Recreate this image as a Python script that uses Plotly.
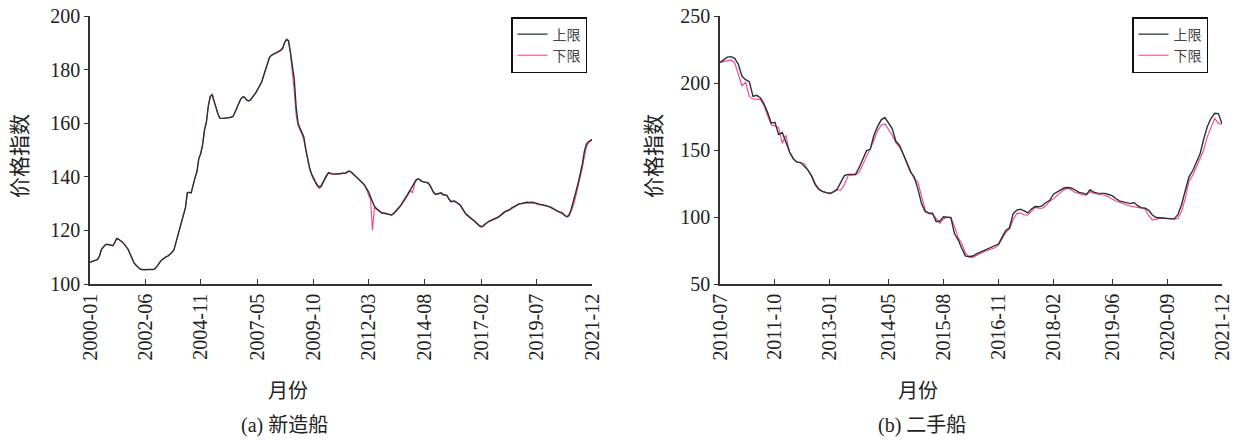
import pandas as pd
import plotly.graph_objects as go

# ---- 新造船 (2000-01 .. 2021-12), monthly price index ----
new_months = pd.date_range("2000-01", "2021-12", freq="MS").strftime("%Y-%m").tolist()
new_ticks = ["2000-01", "2002-06", "2004-11", "2007-05", "2009-10",
             "2012-03", "2014-08", "2017-02", "2019-07", "2021-12"]

new_upper = [
    108.1, 108.3, 108.6, 108.9, 109.2, 110.5, 112.9, 113.8, 114.6, 114.8,
    114.7, 114.5, 114.3, 115.5, 117.0, 116.7, 116.3, 115.6, 114.8, 113.8,
    112.9, 111.2, 109.5, 108.0, 107.1, 106.3, 105.7, 105.4, 105.3, 105.3,
    105.4, 105.3, 105.4, 105.4, 105.6, 106.5, 107.7, 108.5, 109.2, 109.8,
    110.2, 110.5, 111.0, 111.8, 112.8, 115.5, 118.5, 121.0, 123.5, 125.8,
    128.5, 134.1, 134.2, 134.0, 137.5, 139.6, 141.8, 146.8, 148.6, 152.0,
    157.5, 160.5, 166.5, 170.0, 170.6, 168.0, 165.5, 163.5, 161.9, 161.8,
    161.8, 161.9, 162.0, 162.0, 162.2, 162.6, 164.0, 165.8, 167.5, 169.0,
    169.8, 169.7, 168.7, 168.3, 168.6, 169.5, 170.2, 171.5, 172.8, 174.1,
    175.5, 177.8, 180.3, 182.6, 184.5, 185.3, 185.7, 186.0, 186.4, 186.8,
    187.3, 188.2, 190.2, 191.3, 190.8, 186.5, 181.5, 176.5, 166.0, 160.0,
    158.2, 156.5, 155.0, 150.5, 146.5, 143.5, 141.2, 139.5, 138.3, 137.0,
    136.2, 136.5, 138.0, 139.3, 140.6, 141.6, 141.3, 141.1, 141.0, 141.1,
    141.2, 141.1, 141.4, 141.5, 141.4, 142.0, 142.1, 141.7, 141.0, 140.6,
    139.8, 139.0, 138.3, 137.6, 136.7, 135.5, 134.3, 132.5, 130.5, 129.0,
    128.2, 127.7, 127.0, 126.5, 126.5, 126.3, 126.2, 125.8, 125.8, 126.3,
    127.0, 127.7, 128.6, 129.6, 130.6, 131.8, 133.0, 134.2, 135.2, 136.5,
    137.8, 139.0, 139.3, 138.7, 138.3, 138.1, 138.0, 137.8, 137.0, 135.6,
    134.2, 133.5, 133.6, 133.9, 134.0, 133.4, 133.2, 133.1, 131.8, 130.8,
    130.9, 131.0, 130.5, 130.0, 129.5, 128.3, 127.0, 126.1, 125.5, 124.8,
    124.3, 123.8, 123.0, 122.4, 121.8, 121.4, 121.7, 122.4, 123.0, 123.4,
    123.7, 124.0, 124.3, 124.5, 125.0, 125.6, 126.3, 126.8, 127.2, 127.5,
    127.8, 128.4, 128.8, 129.4, 129.9, 130.0, 130.1, 130.3, 130.4, 130.5,
    130.4, 130.5, 130.5, 130.3, 130.0, 129.8, 129.7, 129.6, 129.4, 129.3,
    129.1, 128.8, 128.4, 127.9, 127.6, 127.2, 126.9, 126.7, 126.2, 125.4,
    125.1, 125.8, 127.6, 130.0, 132.6, 135.6, 138.4, 141.5, 145.0, 149.5,
    152.0, 153.0, 153.6, 154.0,
]

new_lower = [
    108.1, 108.3, 108.6, 108.9, 109.2, 110.5, 112.9, 113.8, 114.6, 114.8,
    114.7, 114.5, 114.3, 115.5, 117.0, 116.7, 116.3, 115.6, 114.8, 113.8,
    112.9, 111.2, 109.5, 108.0, 107.1, 106.3, 105.7, 105.4, 105.3, 105.3,
    105.4, 105.3, 105.4, 105.4, 105.6, 106.5, 107.7, 108.5, 109.2, 109.8,
    110.2, 110.5, 111.0, 111.8, 112.8, 115.5, 118.5, 121.0, 123.5, 125.8,
    128.5, 134.1, 134.2, 134.0, 137.5, 139.6, 141.8, 146.8, 148.6, 152.0,
    157.5, 160.5, 166.5, 170.0, 170.6, 168.0, 165.5, 163.5, 161.9, 161.8,
    161.8, 161.9, 162.0, 162.0, 162.2, 162.6, 164.0, 165.8, 167.5, 169.0,
    169.8, 169.7, 168.7, 168.3, 168.6, 169.5, 170.2, 171.5, 172.8, 174.1,
    175.5, 177.8, 180.3, 182.6, 184.5, 185.3, 185.7, 186.0, 186.4, 186.8,
    187.0, 187.8, 190.0, 191.2, 190.5, 186.0, 180.0, 172.0, 163.0, 159.0,
    157.5, 156.0, 154.0, 150.0, 146.0, 143.0, 140.8, 139.0, 138.0, 136.5,
    135.7, 136.0, 137.6, 139.0, 140.4, 141.4, 141.1, 141.0, 140.9, 141.0,
    141.1, 141.0, 141.3, 141.4, 141.3, 141.9, 142.0, 141.6, 140.9, 140.5,
    139.7, 138.9, 138.2, 137.5, 136.5, 135.2, 133.0, 131.5, 120.0, 128.5,
    128.0, 127.5, 126.8, 126.3, 126.3, 126.1, 126.0, 125.6, 125.6, 126.1,
    126.8, 127.5, 128.4, 129.3, 130.2, 131.4, 132.6, 133.8, 134.8, 134.0,
    137.2, 138.7, 139.2, 138.6, 138.2, 138.0, 137.9, 137.6, 136.8, 135.3,
    134.0, 133.3, 133.4, 133.7, 133.8, 133.2, 133.0, 132.9, 131.6, 130.6,
    130.7, 130.8, 130.3, 129.8, 129.3, 128.0, 126.8, 125.9, 125.3, 124.6,
    124.1, 123.6, 122.8, 122.2, 121.6, 121.2, 121.5, 122.2, 122.8, 123.2,
    123.5, 123.8, 124.1, 124.3, 124.8, 125.4, 126.1, 126.6, 127.0, 127.3,
    127.6, 128.2, 128.6, 129.2, 129.7, 129.8, 129.9, 130.1, 130.2, 130.3,
    130.2, 130.3, 130.3, 130.1, 129.8, 129.6, 129.5, 129.4, 129.2, 129.1,
    128.9, 128.6, 128.2, 127.6, 127.2, 126.8, 126.3, 126.1, 125.8, 125.2,
    125.0, 125.3, 126.8, 128.8, 131.2, 134.0, 136.8, 140.0, 143.5, 147.5,
    150.8, 152.5, 153.3, 153.8,
]

# ---- 二手船 (2010-07 .. 2021-12), monthly price index ----
used_months = pd.date_range("2010-07", "2021-12", freq="MS").strftime("%Y-%m").tolist()
used_ticks = ["2010-07", "2011-10", "2013-01", "2014-05", "2015-08",
              "2016-11", "2018-02", "2019-06", "2020-09", "2021-12"]

used_upper = [
    215.4, 217.5, 219.3, 219.7, 218.4, 214.0, 205.0, 202.5, 201.0, 190.0,
    190.8, 189.0, 184.5, 178.0, 170.0, 170.6, 161.5, 163.0, 155.0, 148.5,
    143.5, 141.0, 140.6, 138.0, 135.0, 130.5, 124.0, 120.5, 119.0, 118.2,
    117.7, 119.0, 120.8, 126.0, 131.0, 131.8, 131.6, 131.8, 137.0, 143.0,
    149.5, 150.5, 161.0, 167.5, 172.5, 174.2, 170.5, 166.0, 156.5, 153.5,
    147.0, 140.5, 133.5, 130.0, 121.0, 110.0, 104.0, 103.0, 102.8, 96.5,
    97.0, 100.2, 100.0, 99.5, 87.5, 83.0, 76.5, 70.8, 70.5, 70.9,
    72.5, 73.8, 74.6, 76.0, 77.1, 78.5, 79.8, 85.0, 90.0, 92.0,
    102.5, 105.2, 105.8, 104.5, 103.0, 106.0, 107.8, 107.6, 108.5, 110.8,
    112.5, 117.0, 118.3, 120.2, 121.8, 122.0, 121.5, 120.0, 118.4, 117.8,
    116.9, 120.3, 118.5, 117.8, 117.7, 117.6, 116.8, 115.9, 113.8, 112.0,
    111.3, 110.6, 110.0, 110.8, 108.4, 107.0, 106.6, 105.0, 101.5, 99.6,
    99.2, 99.2, 99.0, 98.9, 98.6, 102.0, 109.5, 120.0, 130.0, 134.5,
    140.5, 147.0, 158.0, 167.5, 173.5, 177.4, 177.2, 169.5,
]

used_lower = [
    215.4, 216.0, 217.0, 217.2, 215.0, 207.0, 198.0, 200.5, 190.0, 188.0,
    187.8, 187.8, 183.0, 175.0, 168.5, 168.0, 166.5, 155.0, 161.0, 148.0,
    143.5, 141.0, 140.5, 139.8, 135.0, 131.0, 125.0, 121.2, 119.3, 118.3,
    117.2, 118.5, 120.1, 120.1, 124.5, 131.0, 131.3, 131.3, 133.5, 139.5,
    145.0, 150.5, 157.0, 164.5, 168.5, 169.4, 165.5, 161.0, 155.5, 152.0,
    147.0, 141.0, 135.0, 128.5, 126.0, 116.0, 105.0, 102.5, 102.0, 99.0,
    95.3, 98.5, 99.8, 99.8, 93.0, 84.5, 80.0, 73.0, 70.0, 69.9,
    71.5, 73.0, 74.1, 75.0, 76.0, 77.1, 79.0, 84.0, 88.5, 91.0,
    98.0, 102.7, 102.9, 101.5, 101.5, 104.0, 107.2, 106.5, 106.5, 108.5,
    112.0, 113.5, 116.4, 118.5, 120.5, 121.4, 120.0, 118.2, 117.5, 116.5,
    116.4, 118.9, 117.5, 117.0, 116.9, 116.2, 115.0, 113.2, 112.0, 111.0,
    110.2, 109.0, 108.0, 107.7, 107.2, 106.5, 106.0, 101.0, 97.8, 98.2,
    99.0, 99.0, 98.6, 98.5, 98.3, 99.0, 104.5, 114.0, 127.0, 131.0,
    137.6, 143.0, 150.0, 160.0, 166.5, 173.6, 170.0, 169.2,
]

UPPER_COLOR = "#263238"
LOWER_COLOR = "#ff3d84"
FONT = "Liberation Serif, Noto Sans CJK SC"

W, H = 1247, 442
fig = go.Figure()

# lower bound drawn first so the upper bound sits on top
fig.add_trace(go.Scatter(x=new_months, y=new_lower, name="下限", mode="lines",
                         line=dict(color=LOWER_COLOR, width=1.1),
                         xaxis="x", yaxis="y", legend="legend", legendrank=2))
fig.add_trace(go.Scatter(x=new_months, y=new_upper, name="上限", mode="lines",
                         line=dict(color=UPPER_COLOR, width=1.4),
                         xaxis="x", yaxis="y", legend="legend", legendrank=1))
fig.add_trace(go.Scatter(x=used_months, y=used_lower, name="下限", mode="lines",
                         line=dict(color=LOWER_COLOR, width=1.1),
                         xaxis="x2", yaxis="y2", legend="legend2", legendrank=2))
fig.add_trace(go.Scatter(x=used_months, y=used_upper, name="上限", mode="lines",
                         line=dict(color=UPPER_COLOR, width=1.4),
                         xaxis="x2", yaxis="y2", legend="legend2", legendrank=1))

ydom = [1 - 284 / H, 1 - 16 / H]

xcommon = dict(type="category", showline=True, linecolor="#333333", linewidth=1.5,
               ticks="inside", ticklen=5, tickwidth=1.2, tickcolor="#333333",
               tickangle=-90, showgrid=False, zeroline=False, automargin=False,
               tickfont=dict(family=FONT, size=20, color="#222222"))
ycommon = dict(showline=True, linecolor="#333333", linewidth=1.5,
               ticks="outside", ticklen=4, tickwidth=1.2, tickcolor="#333333",
               showgrid=False, zeroline=False, automargin=False,
               tickfont=dict(family=FONT, size=20, color="#222222"))

legend_common = dict(bgcolor="white", bordercolor="#111111", borderwidth=1.5,
                     font=dict(family=FONT, size=14, color="#444444"),
                     xanchor="right", yanchor="top", tracegroupgap=0,
                     itemwidth=30)

fig.update_layout(
    width=W, height=H, autosize=False,
    margin=dict(l=0, r=0, t=0, b=0, autoexpand=False),
    paper_bgcolor="white", plot_bgcolor="white",
    showlegend=True,
    xaxis=dict(domain=[90 / W, 592 / W], anchor="y", range=[0, len(new_months) - 1],
               tickvals=new_ticks, ticktext=new_ticks, **xcommon),
    yaxis=dict(domain=ydom, anchor="x", range=[100, 200], dtick=20, tick0=100, **ycommon),
    xaxis2=dict(domain=[720 / W, 1222 / W], anchor="y2", range=[0, len(used_months) - 1],
                tickvals=used_ticks, ticktext=used_ticks, **xcommon),
    yaxis2=dict(domain=ydom, anchor="x2", range=[50, 250], dtick=50, tick0=50, **ycommon),
    legend=dict(x=587 / W, y=1 - 17 / H, **legend_common),
    legend2=dict(x=1208 / W, y=1 - 17 / H, **legend_common),
)

def label(text, px, py, size=20, angle=0):
    fig.add_annotation(text=text, x=px / W, y=1 - py / H, xref="paper", yref="paper",
                       showarrow=False, textangle=angle, xanchor="center", yanchor="middle",
                       font=dict(family=FONT, size=size, color="#222222"))

label("价格指数", 20, 156, size=21, angle=-90)
label("价格指数", 654, 156, size=21, angle=-90)
label("月份", 288, 391, size=20)
label("月份", 918, 391, size=20)
label("(a) 新造船", 284, 425, size=20)
label("(b) 二手船", 922, 425, size=20)

fig.write_html("out.html")
